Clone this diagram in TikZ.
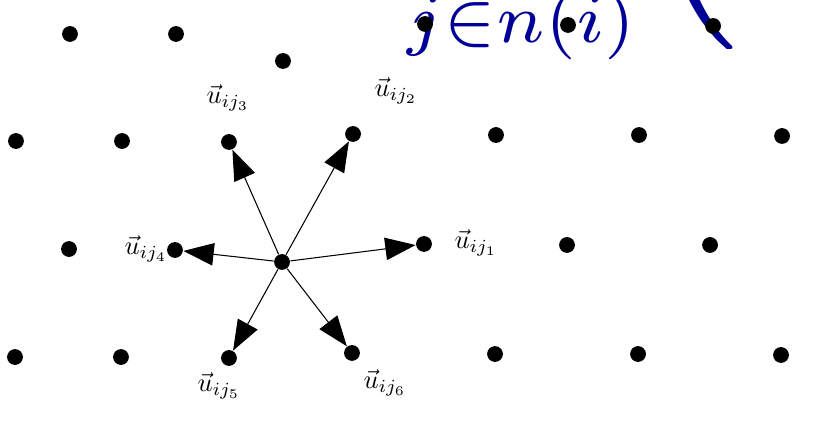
\documentclass[tikz,border=0pt]{standalone}
\usepackage{tikz}
\usetikzlibrary{arrows.meta}
\definecolor{sumblue}{RGB}{0,0,150}
\tikzset{site/.style={circle, fill, inner sep=0pt, minimum size=6pt},
  uvec/.style={-{Triangle[length=11.5pt, width=8.5pt]}, thin},
  lab/.style={inner sep=1pt},
  big/.style={text=sumblue, inner sep=0pt}}

\begin{document}
\begin{tikzpicture}
  \useasboundingbox (0,0) rectangle (10.933,5.613);
  % sum index and opening bracket, cut off by the frame
  \node[big, scale=3.75, anchor=base] (idx) at (6.95,5.04) {$\scriptstyle j\in n(i)$};
  \node[big, scale=6.6, anchor=south east] (paren) at (9.9,4.91) {$\Bigl($};
  % lattice sites
  \node[site] (a1) at (0.933,5.16) {};
  \node[site] (a2) at (2.347,5.16) {};
  \node[site] (a3) at (3.773,4.8) {};
  \node[site] (a4) at (5.667,5.293) {};
  \node[site] (a5) at (7.573,5.28) {};
  \node[site] (a6) at (9.507,5.267) {};
  \node[site] (b1) at (0.213,3.733) {};
  \node[site] (b2) at (1.627,3.733) {};
  \node[site] (j3) at (3.053,3.72) {};
  \node[site] (j2) at (4.707,3.827) {};
  \node[site] (b3) at (6.613,3.813) {};
  \node[site] (b4) at (8.52,3.813) {};
  \node[site] (b5) at (10.427,3.8) {};
  \node[site] (d1) at (0.92,2.293) {};
  \node[site] (j4) at (2.333,2.28) {};
  \node[site] (c)  at (3.76,2.12) {};
  \node[site] (j1) at (5.653,2.36) {};
  \node[site] (d2) at (7.56,2.347) {};
  \node[site] (d3) at (9.467,2.347) {};
  \node[site] (e1) at (0.2,0.853) {};
  \node[site] (e2) at (1.613,0.853) {};
  \node[site] (j5) at (3.053,0.84) {};
  \node[site] (j6) at (4.693,0.907) {};
  \node[site] (e3) at (6.6,0.893) {};
  \node[site] (e4) at (8.507,0.893) {};
  \node[site] (e5) at (10.413,0.88) {};
  % unit vectors from i to its neighbours
  \draw[uvec] (c) -- (j1);
  \draw[uvec] (c) -- (j2);
  \draw[uvec] (c) -- (j3);
  \draw[uvec] (c) -- (j4);
  \draw[uvec] (c) -- (j5);
  \draw[uvec] (c) -- (j6);
  \node[lab] (l1) at (6.347,2.373) {$\vec{u}_{ij_1}$};
  \node[lab] (l2) at (5.28,4.40)   {$\vec{u}_{ij_2}$};
  \node[lab] (l3) at (3.04,4.307)  {$\vec{u}_{ij_3}$};
  \node[lab] (l4) at (1.947,2.293) {$\vec{u}_{ij_4}$};
  \node[lab] (l5) at (2.92,0.467)  {$\vec{u}_{ij_5}$};
  \node[lab] (l6) at (5.133,0.507) {$\vec{u}_{ij_6}$};
\end{tikzpicture}
\end{document}
